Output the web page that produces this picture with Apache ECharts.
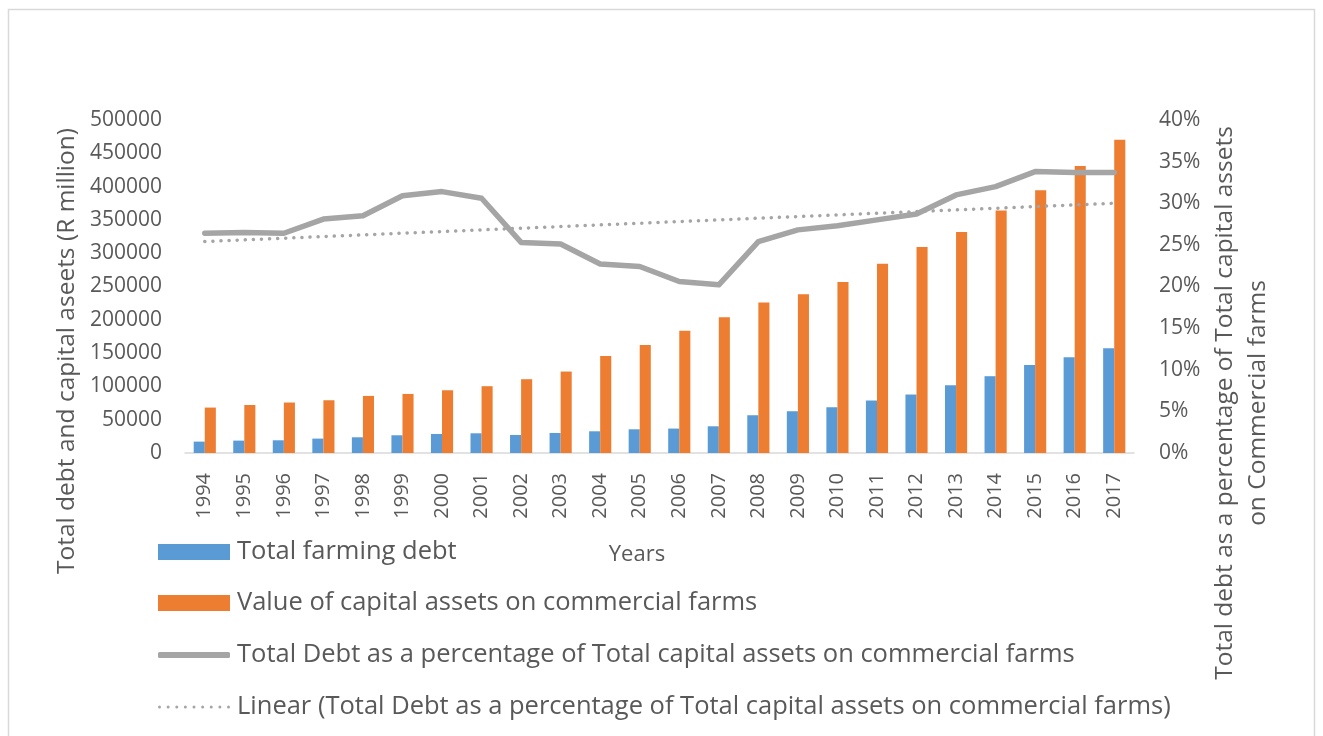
<!DOCTYPE html>
<html>
<head>
<meta charset="utf-8">
<script src="https://cdn.jsdelivr.net/npm/echarts@6/dist/echarts.min.js"></script>
<style>
html,body{margin:0;padding:0;background:#fff;}
#chart{width:1323px;height:736px;}
</style>
</head>
<body>
<div id="chart"></div>
<script>
const years = ['1994','1995','1996','1997','1998','1999','2000','2001','2002','2003','2004','2005','2006','2007','2008','2009','2010','2011','2012','2013','2014','2015','2016','2017'];
const farmingDebt = [17100,18600,19100,21600,23600,26600,28600,29600,27100,30100,32600,35600,36700,40100,56700,62700,68700,78800,87800,101800,115300,132300,143800,157400];
const capitalAssets = [68200,72100,75800,79200,85700,88700,94200,100300,110800,122300,145800,162300,183400,204000,226100,238500,256600,284100,309200,331700,364300,394400,430900,470400];
const debtPct = [26.4,26.5,26.4,28.1,28.5,30.9,31.4,30.6,25.3,25.1,22.7,22.4,20.6,20.2,25.4,26.8,27.3,28.0,28.7,31.0,32.0,33.8,33.7,33.7];
const trendEnds = [[0,25.4],[23,30.0]];
const leftTicks = {min:0,max:500000,interval:50000};
const rightTicks = {min:0,max:40,interval:5};

const names = ['Total farming debt','Value of capital assets on commercial farms','Total Debt as a percentage of Total capital assets on commercial farms','Linear (Total Debt as a percentage of Total capital assets on commercial farms)'];
const txt = '#595959';
const FF = 'Open Sans';

// dotted legend icon (9 small circles)
let dotPath = 'path://';
for (let k = 0; k < 9; k++) {
  const cx = 1.5 + k * 8.625;
  dotPath += `M${cx - 1.5} 1.5a1.5 1.5 0 1 0 3 0a1.5 1.5 0 1 0 -3 0Z`;
}

const chart = echarts.init(document.getElementById('chart'));
const legendTops = [539,590,642,694];
const legendIcons = ['rect','rect','roundRect',dotPath];
const legendH = [16,16,6,3];
chart.setOption({
  backgroundColor:'#fff',
  textStyle:{fontFamily:FF},
  grid:{left:185,right:189,top:120,bottom:283,containLabel:false},
  legend: names.map((n,i)=>({
    data:[{name:n,icon:legendIcons[i]}],
    left:158, top:legendTops[i], orient:'vertical', padding:0,
    itemWidth:72, itemHeight:legendH[i], selectedMode:false,
    textStyle:{color:txt,fontSize:25.5,fontFamily:FF,padding:[0,0,0,2]}
  })),
  xAxis:{
    type:'category', data:years, boundaryGap:true,
    axisLine:{lineStyle:{color:'#d9d9d9',width:1.5}},
    axisTick:{length:6,lineStyle:{color:'#d9d9d9',width:1.5}},
    axisLabel:{rotate:90,margin:20,color:txt,fontSize:20,fontFamily:FF}
  },
  yAxis:[
    {type:'value',min:leftTicks.min,max:leftTicks.max,interval:leftTicks.interval,
     axisLine:{show:false},axisTick:{show:false},splitLine:{show:false},
     axisLabel:{color:txt,fontSize:21,fontFamily:FF,margin:23,formatter:v=>String(v)}},
    {type:'value',min:rightTicks.min,max:rightTicks.max,interval:rightTicks.interval,position:'right',
     axisLine:{show:false},axisTick:{show:false},splitLine:{show:false},
     axisLabel:{color:txt,fontSize:21,fontFamily:FF,margin:25,formatter:'{value}%'}}
  ],
  series:[
    {name:names[0],type:'bar',data:farmingDebt,itemStyle:{color:'#5b9bd5'},barGap:'0%',barCategoryGap:'44%'},
    {name:names[1],type:'bar',data:capitalAssets,itemStyle:{color:'#ed7d31'},barGap:'0%',barCategoryGap:'44%'},
    {name:names[2],type:'line',yAxisIndex:1,data:debtPct,symbol:'none',
     lineStyle:{color:'#a5a5a5',width:5.5,cap:'round',join:'round'},itemStyle:{color:'#a5a5a5'}},
    {name:names[3],type:'line',yAxisIndex:1,data:trendEnds,symbol:'none',
     lineStyle:{color:'#a5a5a5',width:3.5,type:[0.1,8],cap:'round'},itemStyle:{color:'#a5a5a5'}}
  ],
  graphic:[
    {type:'rect',shape:{x:8.5,y:9.5,width:1306,height:740},style:{fill:'none',stroke:'#d9d9d9',lineWidth:1.5},silent:true},
    {type:'text',x:67,y:351,rotation:Math.PI/2,style:{text:'Total debt and capital aseets (R million)',fill:txt,font:'24.5px "Open Sans"',align:'center',verticalAlign:'middle'}},
    {type:'text',x:1242,y:403,rotation:Math.PI/2,style:{text:'Total debt as a percentage of Total capital assets\non Commercial farms',fill:txt,font:'24.5px "Open Sans"',align:'center',verticalAlign:'middle',lineHeight:33}},
    {type:'text',x:637,y:555,style:{text:'Years',fill:txt,font:'22px "Open Sans"',align:'center',verticalAlign:'middle'}}
  ]
});
</script>
</body>
</html>
